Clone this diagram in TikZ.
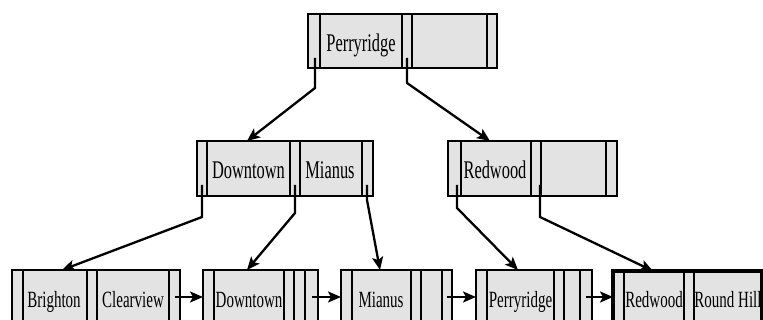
\documentclass[tikz,border=0pt]{standalone}
\usepackage{fontspec}
\usepackage{graphicx}
\setmainfont{Liberation Serif}
\usetikzlibrary{arrows.meta}

% tall, narrow key labels
\newcommand\innerkey[1]{\scalebox{1}[1.55]{\fontsize{16.4}{18}\selectfont #1}}
\newcommand\leafkey[1]{\scalebox{1}[1.55]{\fontsize{15}{17}\selectfont #1}}

\tikzset{
  bpbox/.style={draw=black, fill=black!11, line width=2.4pt, inner sep=0pt,
                outer sep=0pt, anchor=north west},
  slotline/.style={line width=2pt},
  ptr/.style={line width=2.3pt, -{Stealth[length=13pt,width=11pt,inset=3pt]}},
  keytext/.style={anchor=base, inner sep=0pt},
}

\begin{document}
\begin{tikzpicture}[x=1pt, y=-1pt]
\useasboundingbox (0,0) rectangle (763,320);
\clip (0,0) rectangle (763,320);

% ---- root ----
\node[bpbox, minimum width=189pt, minimum height=54pt] (root) at (308,14) {};
\foreach \xx in {320,402,412,487} \draw[slotline] (\xx,14) -- (\xx,68);
\node[keytext] (root-k1) at (361,52) {\innerkey{Perryridge}};

% ---- inner level ----
\node[bpbox, minimum width=176pt, minimum height=55pt] (inL) at (197,141) {};
\foreach \xx in {207,290,300,362} \draw[slotline] (\xx,141) -- (\xx,196);
\node[keytext] (inL-k1) at (248.5,179) {\innerkey{Downtown}};
\node[keytext] (inL-k2) at (330,179) {\innerkey{Mianus}};

\node[bpbox, minimum width=169pt, minimum height=55pt] (inR) at (448,141) {};
\foreach \xx in {461,531,541,606} \draw[slotline] (\xx,141) -- (\xx,196);
\node[keytext] (inR-k1) at (495,179) {\innerkey{Redwood}};

% ---- leaves ----
\node[bpbox, minimum width=168pt, minimum height=70pt] (lf1) at (12,270) {};
\foreach \xx in {23,87,97,169} \draw[slotline] (\xx,270) -- (\xx,340);
\node[keytext] (lf1-k1) at (54,308) {\leafkey{Brighton}};
\node[keytext] (lf1-k2) at (133,308) {\leafkey{Clearview}};

\node[bpbox, minimum width=115pt, minimum height=70pt] (lf2) at (203,270) {};
\foreach \xx in {214,284,294,305} \draw[slotline] (\xx,270) -- (\xx,340);
\node[keytext] (lf2-k1) at (249,308) {\leafkey{Downtown}};

\node[bpbox, minimum width=111pt, minimum height=70pt] (lf3) at (341,270) {};
\foreach \xx in {352,411,421,442} \draw[slotline] (\xx,270) -- (\xx,340);
\node[keytext] (lf3-k1) at (381,308) {\leafkey{Mianus}};

\node[bpbox, minimum width=116pt, minimum height=70pt] (lf4) at (476,270) {};
\foreach \xx in {487,554,564,580} \draw[slotline] (\xx,270) -- (\xx,340);
\node[keytext] (lf4-k1) at (520.5,308) {\leafkey{Perryridge}};

\node[bpbox, line width=3.4pt, minimum width=149pt, minimum height=70pt] (lf5) at (613,271) {};
\foreach \xx in {624,684,694} \draw[slotline] (\xx,271) -- (\xx,341);
\node[keytext] (lf5-k1) at (654,308) {\leafkey{Redwood}};
\node[keytext] (lf5-k2) at (728,308) {\leafkey{Round Hill}};

% ---- pointer origins (inside the pointer slots) ----
\coordinate (root-p0) at (315,58);
\coordinate (root-p1) at (407,58);
\coordinate (inL-p0) at (202,185);
\coordinate (inL-p1) at (295,185);
\coordinate (inL-p2) at (367,185);
\coordinate (inR-p0) at (457,185);
\coordinate (inR-p1) at (540,185);
\coordinate (lf1-pn) at (175,297);
\coordinate (lf2-pn) at (312,297);
\coordinate (lf3-pn) at (447,297);
\coordinate (lf4-pn) at (586,297);

% ---- tree pointers ----
\draw[ptr] (root-p0) -- ++(0,30) -- ([xshift=50pt]inL.north west);
\draw[ptr] (root-p1) -- ++(0,25) -- ([xshift=42pt]inR.north west);
\draw[ptr] (inL-p0) -- ++(0,32) -- ([xshift=50pt]lf1.north west);
\draw[ptr] (inL-p1) -- ++(0,28) -- ([xshift=44pt]lf2.north west);
\draw[ptr] (inL-p2) -- ++(0,15) -- ([xshift=39pt]lf3.north west);
\draw[ptr] (inR-p0) -- ++(0,23) -- ([xshift=42pt]lf4.north west);
\draw[ptr] (inR-p1) -- ++(0,32) -- ([xshift=40pt]lf5.north west);

% ---- leaf chain ----
\draw[ptr] (lf1-pn) -- (lf1-pn -| lf2.west);
\draw[ptr] (lf2-pn) -- (lf2-pn -| lf3.west);
\draw[ptr] (lf3-pn) -- (lf3-pn -| lf4.west);
\draw[ptr] (lf4-pn) -- (lf4-pn -| lf5.west);
\end{tikzpicture}
\end{document}
